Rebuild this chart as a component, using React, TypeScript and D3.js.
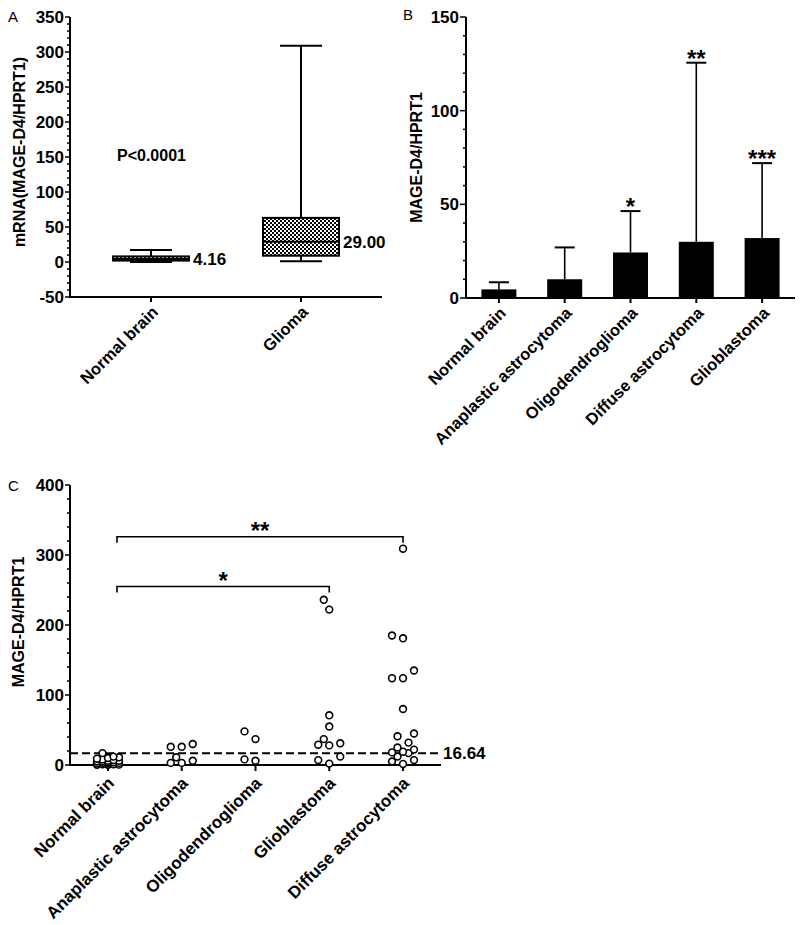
import React from "react";
import * as d3 from "d3";

// ---------- Panel A data ----------
const aCats = ["Normal brain", "Glioma"];
const aMin = [0, 1];
const aQ1 = [2, 9];
const aMed = [4.16, 29];
const aQ3 = [8, 63];
const aMax = [17, 309];
const aMedLabels = ["4.16", "29.00"];
const aTicks = [-50, 0, 50, 100, 150, 200, 250, 300, 350];
const aPText = "P<0.0001";

// ---------- Panel B data ----------
const bCats = ["Normal brain", "Anaplastic astrocytoma", "Oligodendroglioma", "Diffuse astrocytoma", "Glioblastoma"];
const bMean = [4.6, 10, 24.3, 30, 32];
const bSD = [3.8, 17, 22.1, 95.6, 40];
const bSig = ["", "", "*", "**", "***"];
const bTicks = [0, 50, 100, 150];

// ---------- Panel C data ----------
const cCats = ["Normal brain", "Anaplastic astrocytoma", "Oligodendroglioma", "Glioblastoma", "Diffuse astrocytoma"];
const cNormal = [17, 12, 11, 10, 9, 8, 7, 6, 6, 5, 5, 4, 4, 3, 3, 2, 2, 1, 1, 0.5, 0.3, 0.2];
const cAnaplastic = [26, 26, 30, 11, 6, 3, 3];
const cOligo = [48, 37, 8, 6];
const cGlio = [236, 222, 71, 55, 37, 31, 29, 28, 12, 7, 2];
const cDiffuse = [309, 185, 181, 135, 124, 124, 80, 45, 41, 32, 25, 22, 19, 18, 17, 12, 7, 5, 1.5];
const cGroups = [cNormal, cAnaplastic, cOligo, cGlio, cDiffuse];
const cTicks = [0, 100, 200, 300, 400];
const cCutoff = 16.64;
const cCutoffLabel = "16.64";
const cBrackets = [
  { from: 0, to: 4, value: 326, label: "**" },
  { from: 0, to: 3, value: 255, label: "*" },
];

const FONT = "'Liberation Sans', Arial, Helvetica, sans-serif";

function swarm(values: number[], y: (v: number) => number, cx: number) {
  const step = 5.5, minDist = 10.5, maxOff = 12;
  const order = values.map((v, i) => i).sort((a, b) => values[a] - values[b]);
  const placed: { x: number; y: number; v: number }[] = [];
  const offs: number[] = [0];
  for (let k = 1; k * step <= maxOff; k++) { offs.push(-k * step, k * step); }
  for (const i of order) {
    const py = y(values[i]);
    let best = 0, bestD = -1, chosen: number | null = null;
    for (const o of offs) {
      let md = Infinity;
      for (const p of placed) md = Math.min(md, Math.hypot(p.x - (cx + o), p.y - py));
      if (md >= minDist) { chosen = o; break; }
      if (md > bestD) { bestD = md; best = o; }
    }
    placed.push({ x: cx + (chosen === null ? best : chosen), y: py, v: values[i] });
  }
  return placed;
}

export default function App() {
  // Panel A scales
  const yA = d3.scaleLinear().domain([-50, 350]).range([297, 17]);
  const xA = d3.scalePoint<string>().domain(aCats).range([70, 382]).padding(0.54);
  const aMinor = d3.range(-50, 351, 10);
  const boxW = 76, capW = 42;

  // Panel B scales
  const yB = d3.scaleLinear().domain([0, 150]).range([298, 17]);
  const xB = d3.scalePoint<string>().domain(bCats).range([466, 795]).padding(0.5);
  const bMinor = d3.range(0, 151, 10);
  const barW = 35, bCap = 20;

  // Panel C scales
  const yC = d3.scaleLinear().domain([0, 400]).range([765, 485]);
  const xC = d3.scalePoint<string>().domain(cCats).range([70, 441]).padding(0.515);
  const cMinor = d3.range(0, 401, 20);

  const lbl = { fontFamily: FONT, fontWeight: 700 as const };

  return (
    <svg width={800} height={925} style={{ position: "absolute", left: 0, top: 0, background: "#fff" }}>
      <defs>
        <pattern id="dots" width="4" height="4" patternUnits="userSpaceOnUse">
          <rect width="4" height="4" fill="#fff" />
          <rect x="0" y="0" width="2" height="2" fill="#000" />
          <rect x="2" y="2" width="2" height="2" fill="#000" />
        </pattern>
      </defs>
      <rect width={800} height={925} fill="#fff" />

      {/* ================= Panel A ================= */}
      <text x={8} y={22} fontFamily={FONT} fontSize={15}>A</text>
      <line x1={70} x2={70} y1={yA(-50)} y2={yA(350)} stroke="#000" strokeWidth={2} />
      <line x1={69} x2={382} y1={yA(-50)} y2={yA(-50)} stroke="#000" strokeWidth={2} />
      {aMinor.map((t) => (
        <line key={"am" + t} x1={70} x2={t % 50 === 0 ? 65 : 67} y1={yA(t)} y2={yA(t)} stroke="#000" strokeWidth={1.5} />
      ))}
      {aTicks.map((t) => (
        <text key={"at" + t} x={64} y={yA(t)} dy="0.36em" textAnchor="end" fontSize={17} {...lbl}>{t}</text>
      ))}
      <text transform={`translate(25,${(yA(-50) + yA(350)) / 2 - 5}) rotate(-90)`} textAnchor="middle" fontSize={16} {...lbl}>mRNA(MAGE-D4/HPRT1)</text>
      {aCats.map((c, i) => {
        const cx = xA(c)!;
        return (
          <g key={"ab" + c}>
            <line x1={cx} x2={cx} y1={yA(aMax[i])} y2={yA(aQ3[i])} stroke="#000" strokeWidth={2} />
            <line x1={cx} x2={cx} y1={yA(aQ1[i])} y2={yA(aMin[i])} stroke="#000" strokeWidth={2} />
            <line x1={cx - capW / 2} x2={cx + capW / 2} y1={yA(aMax[i])} y2={yA(aMax[i])} stroke="#000" strokeWidth={2} />
            <line x1={cx - capW / 2} x2={cx + capW / 2} y1={yA(aMin[i])} y2={yA(aMin[i])} stroke="#000" strokeWidth={2} />
            <rect x={cx - boxW / 2} y={yA(aQ3[i])} width={boxW} height={yA(aQ1[i]) - yA(aQ3[i])} fill="url(#dots)" stroke="#000" strokeWidth={2} />
            <line x1={cx - boxW / 2} x2={cx + boxW / 2} y1={yA(aMed[i])} y2={yA(aMed[i])} stroke="#000" strokeWidth={2} />
            <text x={cx + boxW / 2 + 4} y={yA(aMed[i])} dy="0.36em" fontSize={17} {...lbl}>{aMedLabels[i]}</text>
            <line x1={cx} x2={cx} y1={yA(-50)} y2={yA(-50) + 5} stroke="#000" strokeWidth={2} />
            <text transform={`translate(${cx + 4},${yA(-50) + 12}) rotate(-45)`} textAnchor="end" dy="0.35em" fontSize={16.5} {...lbl}>{c}</text>
          </g>
        );
      })}
      <text x={117} y={yA(152)} dy="0.36em" fontSize={16} {...lbl}>{aPText}</text>

      {/* ================= Panel B ================= */}
      <text x={403} y={20} fontFamily={FONT} fontSize={15}>B</text>
      <line x1={466} x2={466} y1={yB(0)} y2={yB(150)} stroke="#000" strokeWidth={2} />
      <line x1={465} x2={795} y1={yB(0)} y2={yB(0)} stroke="#000" strokeWidth={2} />
      {bMinor.map((t) => (
        <line key={"bm" + t} x1={466} x2={t % 50 === 0 ? 460 : 463} y1={yB(t)} y2={yB(t)} stroke="#000" strokeWidth={1.5} />
      ))}
      {bTicks.map((t) => (
        <text key={"bt" + t} x={459} y={yB(t)} dy="0.36em" textAnchor="end" fontSize={17} {...lbl}>{t}</text>
      ))}
      <text transform={`translate(422,${(yB(0) + yB(150)) / 2}) rotate(-90)`} textAnchor="middle" fontSize={16} {...lbl}>MAGE-D4/HPRT1</text>
      {bCats.map((c, i) => {
        const cx = xB(c)!;
        const top = yB(bMean[i] + bSD[i]);
        return (
          <g key={"bb" + c}>
            <line x1={cx} x2={cx} y1={yB(bMean[i])} y2={top} stroke="#000" strokeWidth={1.6} />
            <line x1={cx - bCap / 2} x2={cx + bCap / 2} y1={top} y2={top} stroke="#000" strokeWidth={2} />
            <rect x={cx - barW / 2} y={yB(bMean[i])} width={barW} height={yB(0) - yB(bMean[i])} fill="#000" />
            {bSig[i] && (
              <text x={cx} y={top + 4} textAnchor="middle" fontSize={24} {...lbl}>{bSig[i]}</text>
            )}
            <line x1={cx} x2={cx} y1={yB(0)} y2={yB(0) + 5} stroke="#000" strokeWidth={2} />
            <text transform={`translate(${cx + 4},${yB(0) + 12}) rotate(-45)`} textAnchor="end" dy="0.35em" fontSize={16.5} {...lbl}>{c}</text>
          </g>
        );
      })}

      {/* ================= Panel C ================= */}
      <text x={8} y={491} fontFamily={FONT} fontSize={15}>C</text>
      <line x1={70} x2={70} y1={yC(0)} y2={yC(400)} stroke="#000" strokeWidth={2} />
      <line x1={69} x2={441} y1={yC(0)} y2={yC(0)} stroke="#000" strokeWidth={2} />
      {cMinor.map((t) => (
        <line key={"cm" + t} x1={70} x2={t % 100 === 0 ? 65 : 67} y1={yC(t)} y2={yC(t)} stroke="#000" strokeWidth={1.5} />
      ))}
      {cTicks.map((t) => (
        <text key={"ct" + t} x={64} y={yC(t)} dy="0.36em" textAnchor="end" fontSize={17} {...lbl}>{t}</text>
      ))}
      <text transform={`translate(24,622) rotate(-90)`} textAnchor="middle" fontSize={16} {...lbl}>MAGE-D4/HPRT1</text>
      <line x1={70} x2={441} y1={yC(cCutoff)} y2={yC(cCutoff)} stroke="#000" strokeWidth={2} strokeDasharray="8,4" />
      <text x={443} y={yC(cCutoff)} dy="0.36em" fontSize={17} {...lbl}>{cCutoffLabel}</text>
      {cBrackets.map((b, i) => {
        const x1 = xC(cCats[b.from])! + 9;
        const x2 = xC(cCats[b.to])!;
        const yy = yC(b.value);
        return (
          <g key={"br" + i}>
            <path d={`M${x1},${yy + 6}V${yy}H${x2}V${yy + 6}`} fill="none" stroke="#000" strokeWidth={1.6} />
            <text x={(x1 + x2) / 2} y={yy + 2} textAnchor="middle" fontSize={24} {...lbl}>{b.label}</text>
          </g>
        );
      })}
      {cCats.map((c, i) => {
        const cx = xC(c)!;
        const pts = swarm(cGroups[i], (v) => yC(v), cx);
        return (
          <g key={"cg" + c}>
            <line x1={cx} x2={cx} y1={yC(0)} y2={yC(0) + 6} stroke="#000" strokeWidth={2} />
            {pts.map((p, j) => (
              <circle key={j} cx={p.x} cy={p.y} r={3.4} fill="#fff" stroke="#000" strokeWidth={1.6} />
            ))}
            <text transform={`translate(${cx + 3},${yC(0) + 15}) rotate(-45)`} textAnchor="end" dy="0.35em" fontSize={17} {...lbl}>{c}</text>
          </g>
        );
      })}
    </svg>
  );
}
